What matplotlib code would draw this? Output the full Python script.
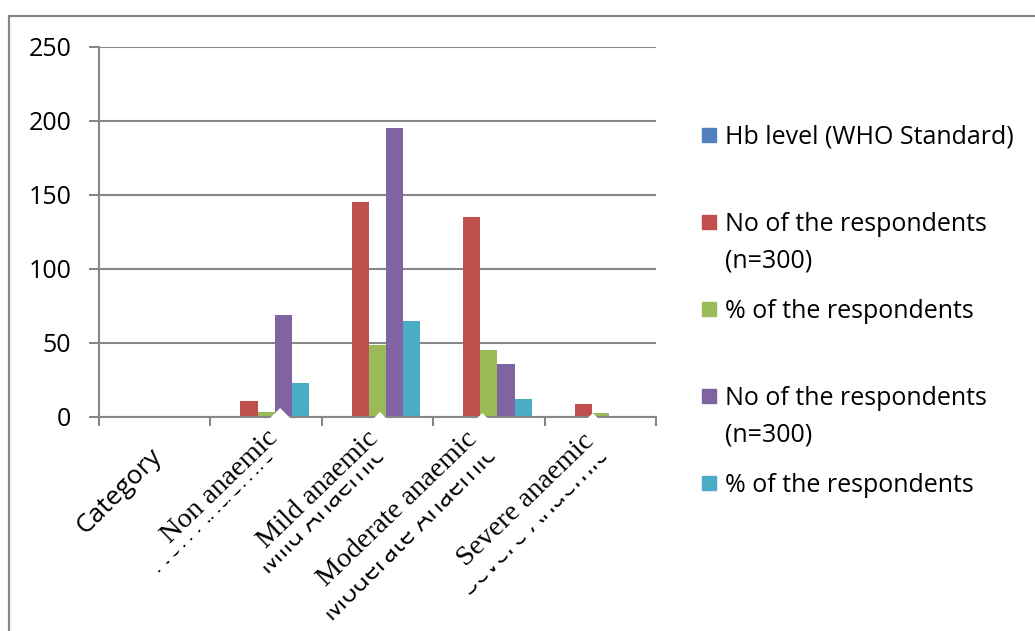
import numpy as np
import matplotlib.pyplot as plt
import matplotlib.transforms as mtransforms
from matplotlib.patches import Rectangle

# categories along the x axis (original chart labels and the pasted-over ones)
categories = ['Category', 'Non anaemic', 'Mild anaemic', 'Moderate anaemic', 'Severe anaemic']
old_labels = ['Category', 'Non Anaemic', 'Mild Anaemic', 'Moderate Anaemic', 'Severe Anaemic']

series_names = ['Hb level (WHO Standard)',
                'No of the respondents\n(n=300)',
                '% of the respondents',
                'No of the respondents\n(n=300)',
                '% of the respondents']
hb_level = [0, 0, 0, 0, 0]
no_resp_1 = [0, 11, 145, 135, 9]
pct_resp_1 = [0, 3.67, 48.33, 45, 3]
no_resp_2 = [0, 69, 195, 36, 0]
pct_resp_2 = [0, 23, 65, 12, 0]
series = [hb_level, no_resp_1, pct_resp_1, no_resp_2, pct_resp_2]

colors = ['#4F81BD', '#C0504D', '#9BBB59', '#8064A2', '#4BACC6']
gray = '#878787'

W, H = 1035, 631
fig = plt.figure(figsize=(W / 100, H / 100), dpi=100)
ax = fig.add_axes([99 / W, 1 - 417 / H, (656 - 99) / W, (417 - 47) / H])

x = np.arange(len(categories))
bw = 1 / 6.5
for k, vals in enumerate(series):
    ax.bar(x + (k - 2) * bw, vals, bw, color=colors[k], linewidth=0, zorder=2)

ax.set_xlim(-0.5, len(categories) - 0.5)
ax.set_ylim(0, 250)
ax.set_yticks(range(0, 251, 50))
ax.yaxis.grid(True, color=gray, lw=1.5)
ax.set_axisbelow(True)
for s in ['top', 'right']:
    ax.spines[s].set_visible(False)
for s in ['left', 'bottom']:
    ax.spines[s].set_color(gray)
    ax.spines[s].set_linewidth(1.5)

ax.set_xticks([])
ax.set_xticks(np.arange(-0.5, len(categories), 1), minor=True)
ax.tick_params(axis='x', which='minor', direction='out', length=6.5, width=1.5, color=gray)
ax.tick_params(axis='y', direction='out', length=7, width=1.5, color=gray, pad=13)
for t in ax.get_yticklabels():
    t.set_fontfamily('Open Sans')
    t.set_fontsize(18)

# original axis labels
for i, lab in enumerate(old_labels):
    ax.annotate(lab, xy=(i, 0), xytext=(8, -40), textcoords='offset pixels',
                rotation=45, rotation_mode='anchor', ha='right', va='baseline',
                family='Open Sans', fontsize=19, annotation_clip=False, zorder=3)

# white boxes pasted over the old labels, with new serif labels on top
box_corner = [(14, 9), (2.5, 5), (-6.5, 4), (-7.5, 4)]
box_height = [29, 27, 31, 38]
text_shift = [(13, -22), (1.5, -23), (-10.5, -23), (-5.5, -25)]
for j, lab in enumerate(categories[1:]):
    i = j + 1
    tr = (mtransforms.Affine2D().rotate_deg(45).translate(*box_corner[j])
          + mtransforms.ScaledTranslation(i, 0, ax.transData))
    ax.add_patch(Rectangle((-260, -box_height[j]), 260, box_height[j],
                           facecolor='white', edgecolor='none',
                           transform=tr, clip_on=False, zorder=4))
    ax.annotate(lab, xy=(i, 0), xytext=text_shift[j], textcoords='offset pixels',
                rotation=44, rotation_mode='anchor', ha='right', va='baseline',
                family='Liberation Serif', fontsize=20.5, annotation_clip=False, zorder=6)

# legend
for k, name in enumerate(series_names):
    yk = 135 + 87 * k
    fig.patches.append(Rectangle((702 / W, 1 - (yk + 7) / H), 14 / W, 14 / H,
                                 transform=fig.transFigure, color=colors[k]))
    for j, line in enumerate(name.split('\n')):
        fig.text(725 / W, 1 - (yk + 9 + 36 * j) / H, line, va='baseline', ha='left',
                 family='Open Sans', fontsize=18)

# chart area border
fig.patches.append(Rectangle((8.5 / W, -0.1), 1.2, 1.1 - 15.5 / H, transform=fig.transFigure,
                             fill=False, edgecolor=gray, lw=1.6))

fig.savefig('out.png', dpi=100)
